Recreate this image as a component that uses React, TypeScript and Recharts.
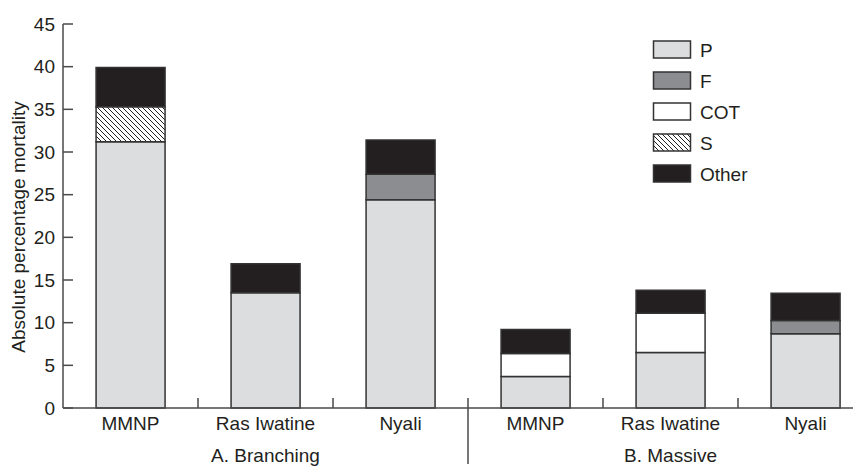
import React from 'react';
import { BarChart, Bar, XAxis, YAxis } from 'recharts';

// sites along the x axis, two growth-form groups of three
const sites = ['MMNP', 'Ras Iwatine', 'Nyali', 'MMNP', 'Ras Iwatine', 'Nyali'];
const groups = ['A. Branching', 'A. Branching', 'A. Branching', 'B. Massive', 'B. Massive', 'B. Massive'];

// absolute percentage mortality by cause
const pVals = [31.2, 13.5, 24.4, 3.7, 6.5, 8.7];
const fVals = [0, 0, 3.0, 0, 0, 1.55];
const cotVals = [0, 0, 0, 2.7, 4.6, 0];
const sVals = [4.1, 0, 0, 0, 0, 0];
const otherVals = [4.6, 3.4, 4.0, 2.8, 2.7, 3.2];

const yTicks = [0, 5, 10, 15, 20, 25, 30, 35, 40, 45];

const data = sites.map((site, i) => ({
    id: i,
    site,
    group: groups[i],
    P: pVals[i],
    F: fVals[i],
    COT: cotVals[i],
    S: sVals[i],
    Other: otherVals[i],
}));

const series = [
    { key: 'P', fill: '#dcdddf' },
    { key: 'F', fill: '#8c8d90' },
    { key: 'COT', fill: '#ffffff' },
    { key: 'S', fill: 'url(#hatch)' },
    { key: 'Other', fill: '#231f20' },
];

const FONT = '"Liberation Sans", Arial, Helvetica, sans-serif';
const INK = '#231f20';
const AXIS = '#4a4a4a';
const PLOT_LEFT = 63;
const PLOT_W = 810;
const BAND = PLOT_W / sites.length;

function Hatch({ id }: { id: string }) {
    return (
        <pattern id={id} patternUnits="userSpaceOnUse" width={5} height={5}>
            <rect width={5} height={5} fill="#fff" />
            <path d="M0,0 L5,5 M-1,4 L1,6 M4,-1 L6,1" stroke="#222" strokeWidth={1} />
        </pattern>
    );
}

function YTick(props: any) {
    const { x, y, payload } = props;
    return (
        <g>
            <text x={x} y={y} dy={6.5} textAnchor="end" fontSize={19} fontFamily={FONT} fill={INK}>
                {payload.value}
            </text>
            <line x1={x + 8} x2={x + 18} y1={y} y2={y} stroke={AXIS} strokeWidth={1.5} />
        </g>
    );
}

function XTick(props: any) {
    const { x, y, index } = props;
    const left = x - BAND / 2;
    const isGroupStart = index > 0 && groups[index] !== groups[index - 1];
    const groupIdx = groups.map((g, i) => i).filter((i) => groups[i] === groups[index]);
    const isGroupMid = groupIdx[Math.floor(groupIdx.length / 2)] === index;
    return (
        <g>
            {index > 0 && (
                <line x1={left} x2={left} y1={y - 10} y2={isGroupStart ? y + 56 : y} stroke={AXIS} strokeWidth={1.5} />
            )}
            <text x={x} y={y + 22} textAnchor="middle" fontSize={19} fontFamily={FONT} fill={INK}>
                {sites[index]}
            </text>
            {isGroupMid && (
                <text x={x} y={y + 54} textAnchor="middle" fontSize={19} fontFamily={FONT} fill={INK}>
                    {groups[index]}
                </text>
            )}
        </g>
    );
}

function LegendBox() {
    return (
        <svg
            width={160}
            height={160}
            style={{ position: 'absolute', left: 650, top: 34 }}
            fontFamily={FONT}
            fontSize={19}
        >
            <defs>
                <Hatch id="hatchLegend" />
            </defs>
            {series.map((s, i) => (
                <g key={s.key} transform={`translate(0, ${i * 31})`}>
                    <rect
                        x={3.5}
                        y={7}
                        width={37}
                        height={17}
                        fill={s.key === 'S' ? 'url(#hatchLegend)' : s.fill}
                        stroke="#333"
                        strokeWidth={1.5}
                    />
                    <text x={50} y={22.5} fill={INK}>
                        {s.key}
                    </text>
                </g>
            ))}
        </svg>
    );
}

export default function App() {
    return (
        <div style={{ position: 'absolute', left: 0, top: 0, width: 853, height: 468, overflow: 'hidden', background: '#fff' }}>
            <BarChart
                width={PLOT_LEFT + PLOT_W + 7}
                height={468}
                data={data}
                margin={{ top: 24, right: 7, left: 0, bottom: 0 }}
                barCategoryGap="24.5%"
            >
                <defs>
                    <Hatch id="hatch" />
                </defs>
                <XAxis
                    dataKey="id"
                    height={60}
                    tickSize={0}
                    tickMargin={0}
                    tickLine={false}
                    axisLine={{ stroke: AXIS, strokeWidth: 1.5 }}
                    tick={<XTick />}
                    interval={0}
                />
                <YAxis
                    width={PLOT_LEFT}
                    domain={[0, 45]}
                    ticks={yTicks}
                    interval={0}
                    tickSize={0}
                    tickMargin={8}
                    tickLine={false}
                    axisLine={{ stroke: AXIS, strokeWidth: 1.5 }}
                    tick={<YTick />}
                    label={{
                        content: () => (
                            <text
                                x={25}
                                y={227}
                                transform="rotate(-90 25 227)"
                                textAnchor="middle"
                                fontSize={19}
                                fontFamily={FONT}
                                fill={INK}
                            >
                                Absolute percentage mortality
                            </text>
                        ),
                    }}
                />
                {series.map((s) => (
                    <Bar
                        key={s.key}
                        dataKey={s.key}
                        stackId="a"
                        fill={s.fill}
                        stroke="#333"
                        strokeWidth={1.5}
                        isAnimationActive={false}
                    />
                ))}
            </BarChart>
            <LegendBox />
        </div>
    );
}
